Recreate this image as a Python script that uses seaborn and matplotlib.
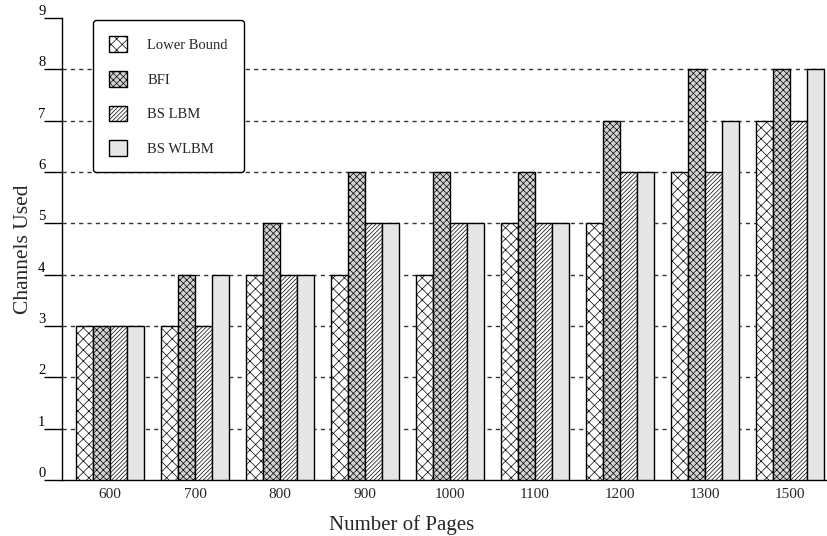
import pandas as pd
import matplotlib.pyplot as plt
import seaborn as sns

# data
pages = ['600', '700', '800', '900', '1000', '1100', '1200', '1300', '1500']
lower_bound = [3, 3, 4, 4, 4, 5, 5, 6, 7]
bfi = [3, 4, 5, 6, 6, 6, 7, 8, 8]
bs_lbm = [3, 3, 4, 5, 5, 5, 6, 6, 7]
bs_wlbm = [3, 4, 4, 5, 5, 5, 6, 7, 8]

methods = ['Lower Bound', 'BFI', 'BS LBM', 'BS WLBM']
series = [lower_bound, bfi, bs_lbm, bs_wlbm]
yticks = list(range(0, 10))

rows = []
for name, vals in zip(methods, series):
    for p, v in zip(pages, vals):
        rows.append({'pages': p, 'method': name, 'channels': v})
df = pd.DataFrame(rows)

sns.set_style('white')
plt.rcParams['font.family'] = ['Liberation Serif', 'DejaVu Serif']
plt.rcParams['hatch.linewidth'] = 0.5

fig = plt.figure(figsize=(8.28, 5.36), dpi=100)
ax = fig.add_axes([0.075, 0.1045, 0.925, 0.862])

palette = ['white', '#d4d4d4', 'white', '#e6e6e6']
hatches = ['xxx', 'xxxxx', '////////', '']

sns.barplot(data=df, x='pages', y='channels', hue='method', order=pages,
            hue_order=methods, palette=palette, width=0.8, saturation=1,
            edgecolor='black', linewidth=1.0, ax=ax, legend=True, zorder=3)

for cont, h in zip(ax.containers, hatches):
    for bar in cont:
        bar.set_hatch(h)

ax.set_ylim(0, 9)
ax.set_xlim(-0.565, 8.447)
ax.set_yticks(yticks)
for y in yticks[1:-1]:
    ax.axhline(y, color='#333333', linestyle=(0, (3, 3)), linewidth=1.0, zorder=1)

sns.despine(ax=ax, top=True, right=True)
for s in ['left', 'bottom']:
    ax.spines[s].set_linewidth(1.0)
    ax.spines[s].set_color('black')

ax.tick_params(axis='y', left=True, direction='out', length=13, width=1.0,
               pad=-1, labelsize=10.5, colors='black')
for lab in ax.get_yticklabels():
    lab.set_verticalalignment('bottom')
ax.tick_params(axis='x', bottom=False, length=0, pad=6, labelsize=11)

ax.set_xlabel('Number of Pages', fontsize=15)
ax.xaxis.set_label_coords(0.443, -0.075)
ax.set_ylabel('Channels Used', fontsize=15.5, labelpad=4)

handles, labels = ax.get_legend_handles_labels()
for hd, h in zip(handles, hatches):
    hd.set_hatch(h)
leg = ax.legend(handles, labels, loc='upper left', bbox_to_anchor=(0.04, 0.996),
                fontsize=10.5, frameon=True, fancybox=True, labelspacing=1.3,
                handlelength=1.25, handleheight=1.3, handletextpad=1.4,
                borderpad=1.1, borderaxespad=0)
leg.get_frame().set_edgecolor('black')
leg.get_frame().set_linewidth(1.0)
leg.get_frame().set_alpha(1)
leg.set_zorder(5)

fig.savefig('out.png', dpi=100)
